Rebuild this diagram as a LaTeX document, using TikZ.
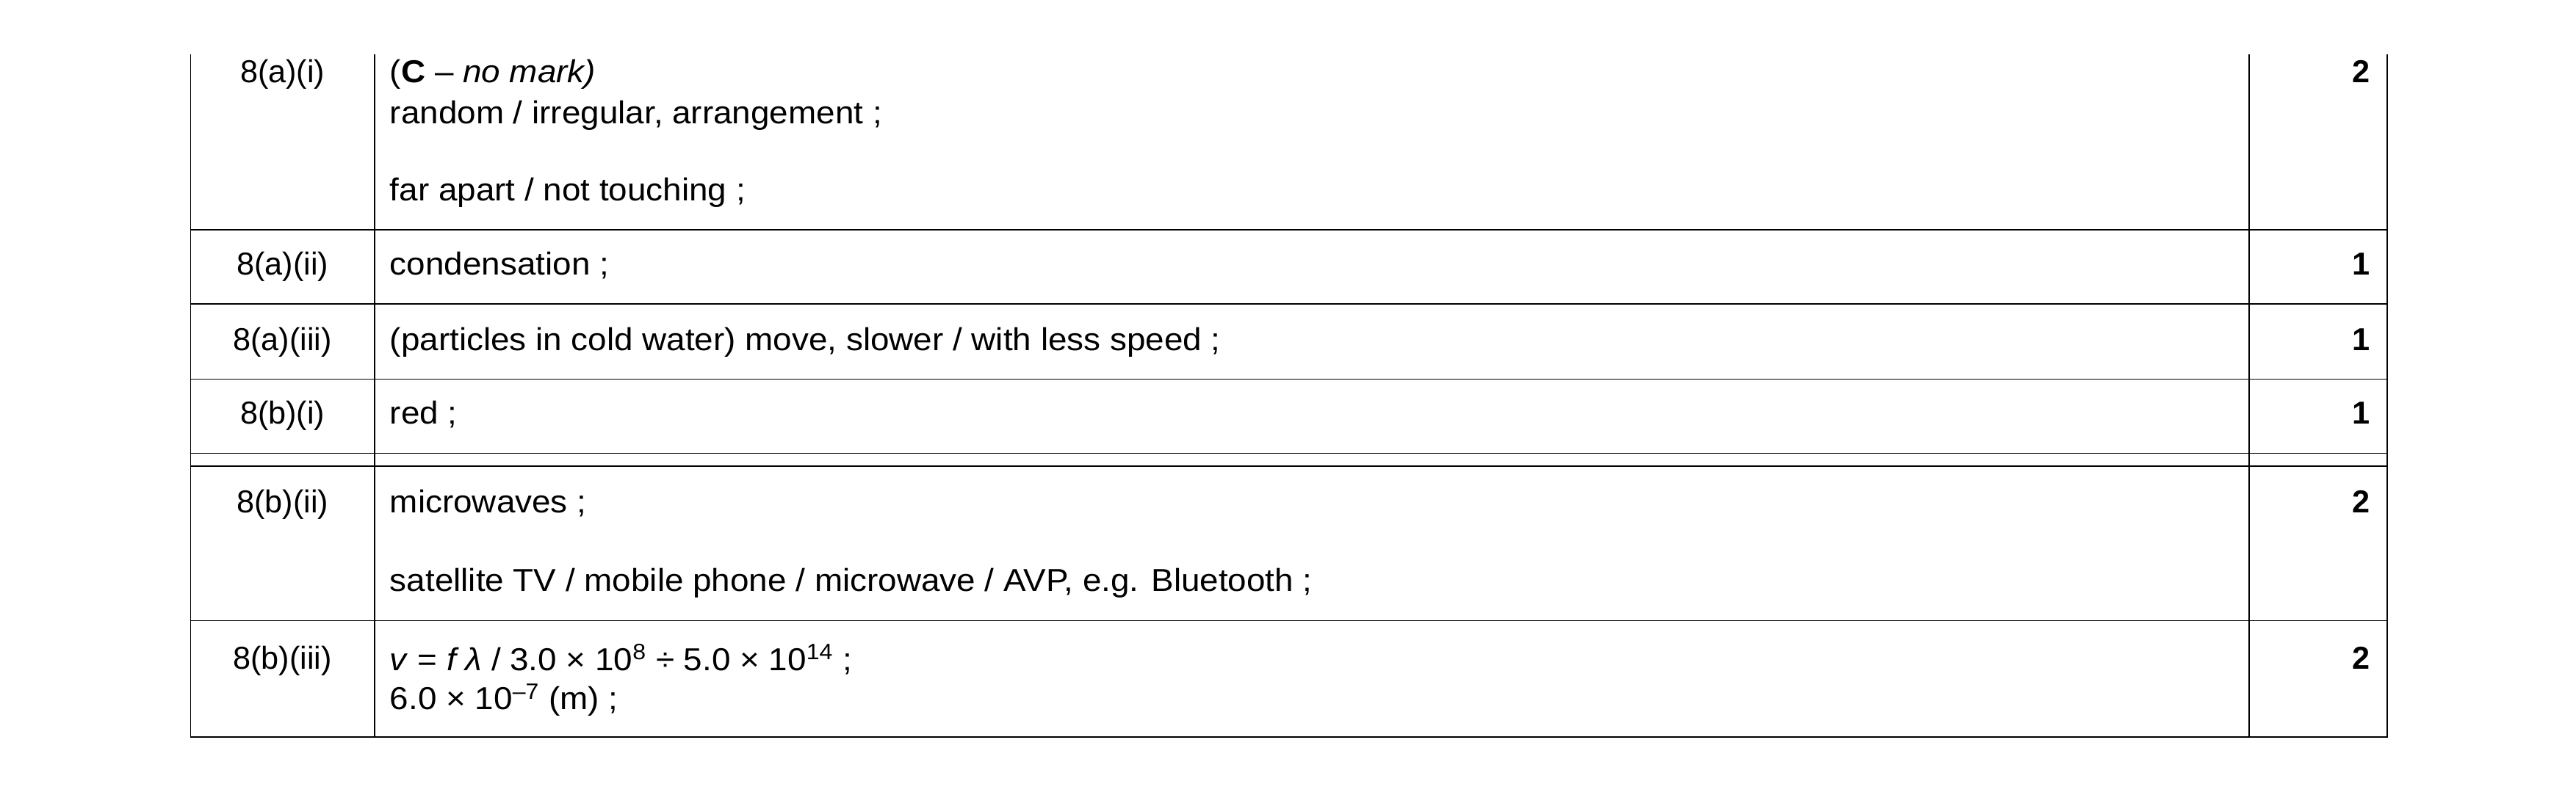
\documentclass[tikz,border=0pt]{standalone}
\usepackage{fontspec}
\setmainfont{Liberation Sans}
\begin{document}
\begin{tikzpicture}[x=0.4mm,y=-0.4mm,line width=0.8pt,
  lab/.style={anchor=mid,inner sep=0,font=\fontsize{22pt}{26pt}\selectfont},
  txt/.style={anchor=mid west,inner sep=0,font=\fontsize{22pt}{26pt}\selectfont,xscale=1.06},
  mk/.style={anchor=mid east,inner sep=0,font=\fontsize{22pt}{26pt}\selectfont\bfseries}]
\useasboundingbox (0,0) rectangle (1568,484);
% grid
\draw (116,33) coordinate (tl) -- (116,449) -- (1453,449) -- (1453,33);
\draw (228,33) -- (228,449);
\draw (1369,33) -- (1369,449);
\foreach \y in {140,185,231,276,284,378} \draw (116,\y) -- (1453,\y);
% row 1
\node[lab] (l1) at (172,48) {8(a)(i)};
\node[txt] (t1a) at (237,48) {(\textbf{C} – \textit{no mark)}};
\node[txt] (t1b) at (237,73) {random / irregular, arrangement ;};
\node[txt] (t1c) at (237,120) {far apart / not touching ;};
\node[mk] (m1) at (1443,48) {2};
% row 2
\node[lab] (l2) at (172,165) {8(a)(ii)};
\node[txt] (t2) at (237,165) {condensation ;};
\node[mk] (m2) at (1443,165) {1};
% row 3
\node[lab] (l3) at (172,211) {8(a)(iii)};
\node[txt] (t3) at (237,211) {(particles in cold water) move, slower / with less speed ;};
\node[mk] (m3) at (1443,211) {1};
% row 4
\node[lab] (l4) at (172,256) {8(b)(i)};
\node[txt] (t4) at (237,256) {red ;};
\node[mk] (m4) at (1443,256) {1};
% row 5
\node[lab] (l5) at (172,310) {8(b)(ii)};
\node[txt] (t5a) at (237,310) {microwaves ;};
\node[txt] (t5b) at (237,358) {satellite TV / mobile phone / microwave / AVP, e.g. Bluetooth ;};
\node[mk] (m5) at (1443,310) {2};
% row 6
\node[lab] (l6) at (172,405) {8(b)(iii)};
\node[txt] (t6a) at (237,406) {\textit{v} = \textit{f λ} / 3.0 × 10\textsuperscript{8} ÷ 5.0 × 10\textsuperscript{14} ;};
\node[txt] (t6b) at (237,430) {6.0 × 10\textsuperscript{–7} (m) ;};
\node[mk] (m6) at (1443,405) {2};
\end{tikzpicture}
\end{document}
